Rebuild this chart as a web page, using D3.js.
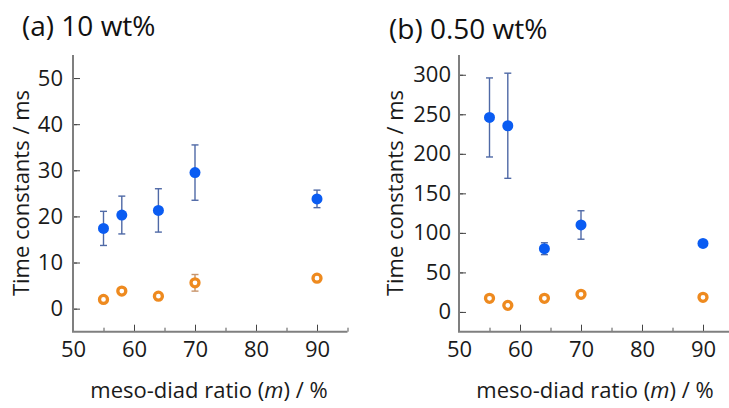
<!DOCTYPE html>
<html>
<head>
<meta charset="utf-8">
<script src="https://cdn.jsdelivr.net/npm/d3@7"></script>
<style>
  body { margin: 0; background: #fff; }
  svg { display: block; font-family: "Open Sans", sans-serif; }
  .tick text { fill: #1a1a1a; }
</style>
</head>
<body>
<svg id="chart" width="729" height="408"></svg>
<script>
// meso-diad ratio (m) / %
var mRatio = [55, 58, 64, 70, 90];

// (a) 10 wt%
var aSlow    = [17.4, 20.3, 21.3, 29.5, 23.8];
var aSlowErr = [3.7, 4.1, 4.7, 6.0, 1.9];
var aFast    = [2.0, 3.8, 2.7, 5.6, 6.6];
var aFastErr = [0.4, 0.5, 0.4, 1.8, 0.4];

// (b) 0.50 wt%
var bSlow    = [246, 235.5, 80, 110, 86.7];
var bSlowErr = [50, 66.5, 7.5, 18, 3];
var bFast    = [17.2, 8.3, 17.2, 22.3, 18.5];
var bFastErr = [2.5, 2, 2, 2.5, 2];

var xTicks  = [50, 60, 70, 80, 90];
var aYTicks = [0, 10, 20, 30, 40, 50];
var bYTicks = [0, 50, 100, 150, 200, 250, 300];

var svg = d3.select("#chart");

function panel(opt) {
  var x = d3.scaleLinear().domain([50, 95]).range([opt.left, opt.left + 274.5]);
  var y = d3.scaleLinear().domain(opt.yDomain).range([331.7, 55]);

  var g = svg.append("g");

  // minor ticks (inward)
  var xMinor = d3.range(55, 96, 10);
  var yMinor = d3.range(opt.yDomain[0] + opt.minorStep, opt.yDomain[1] + 0.1, opt.minorStep * 2);

  g.append("g")
      .attr("transform", "translate(0,331.7)")
      .call(d3.axisBottom(x).tickValues(xMinor).tickSize(-4).tickSizeOuter(0).tickFormat(""))
      .call(s => s.select(".domain").remove())
      .selectAll("line").attr("stroke", "#555");

  g.append("g")
      .attr("transform", "translate(" + opt.left + ",0)")
      .call(d3.axisLeft(y).tickValues(yMinor).tickSize(-4).tickSizeOuter(0).tickFormat(""))
      .call(s => s.select(".domain").remove())
      .selectAll("line").attr("stroke", "#555");

  // major ticks
  var xAx = g.append("g")
      .attr("transform", "translate(0,331.7)")
      .call(d3.axisBottom(x).tickValues(xTicks).tickSize(-7).tickSizeOuter(0).tickPadding(10));
  xAx.select(".domain").remove();
  xAx.selectAll("line").attr("stroke", "#444");
  xAx.selectAll("text").attr("font-size", 22).attr("font-family", "Open Sans");

  var yAx = g.append("g")
      .attr("transform", "translate(" + opt.left + ",0)")
      .call(d3.axisLeft(y).tickValues(opt.yTicks).tickSize(-7).tickSizeOuter(0).tickPadding(opt.yPad));
  yAx.select(".domain").remove();
  yAx.selectAll("line").attr("stroke", "#444");
  yAx.selectAll("text").attr("font-size", 22).attr("font-family", "Open Sans");

  // axis lines
  g.append("line")
      .attr("x1", opt.left).attr("x2", opt.left)
      .attr("y1", y(opt.yDomain[1])).attr("y2", 331.7)
      .attr("stroke", "#7f7f7f").attr("stroke-width", 2);
  g.append("line")
      .attr("x1", opt.left - 1).attr("x2", x(95))
      .attr("y1", 331.7).attr("y2", 331.7)
      .attr("stroke", "#7f7f7f").attr("stroke-width", 2);

  // error bars
  function errBars(vals, errs, color) {
    var d = mRatio.map((m, i) => ({ m: m, v: vals[i], e: errs[i] }));
    var eg = g.append("g").attr("stroke", color).attr("stroke-width", 1.4);
    eg.selectAll(".v").data(d).enter().append("line")
        .attr("x1", d => x(d.m)).attr("x2", d => x(d.m))
        .attr("y1", d => y(d.v - d.e)).attr("y2", d => y(d.v + d.e));
    eg.selectAll(".t").data(d).enter().append("line")
        .attr("x1", d => x(d.m) - 3.5).attr("x2", d => x(d.m) + 3.5)
        .attr("y1", d => y(d.v + d.e)).attr("y2", d => y(d.v + d.e));
    eg.selectAll(".b").data(d).enter().append("line")
        .attr("x1", d => x(d.m) - 3.5).attr("x2", d => x(d.m) + 3.5)
        .attr("y1", d => y(d.v - d.e)).attr("y2", d => y(d.v - d.e));
  }
  errBars(opt.fast, opt.fastErr, "#c8946a");
  errBars(opt.slow, opt.slowErr, "#4f69a6");

  // fast (open orange)
  g.selectAll(".fast").data(opt.fast).enter().append("circle")
      .attr("cx", (d, i) => x(mRatio[i]))
      .attr("cy", d => y(d))
      .attr("r", 4)
      .attr("fill", "#fff")
      .attr("stroke", "#ee8a1f")
      .attr("stroke-width", 3.3);

  // slow (filled blue)
  g.selectAll(".slow").data(opt.slow).enter().append("circle")
      .attr("cx", (d, i) => x(mRatio[i]))
      .attr("cy", d => y(d))
      .attr("r", 5.5)
      .attr("fill", "#0a5cf2");

  // titles and labels
  svg.append("text")
      .attr("x", opt.titleX).attr("y", opt.titleY)
      .attr("font-size", 28).attr("fill", "#111")
      .text(opt.title);

  svg.append("text")
      .attr("transform", "translate(" + opt.ylabX + ",193) rotate(-90)")
      .attr("text-anchor", "middle")
      .attr("font-size", 22).attr("fill", "#1a1a1a")
      .text("Time constants / ms");

  var xl = svg.append("text")
      .attr("x", opt.xlabX).attr("y", 398)
      .attr("text-anchor", "middle")
      .attr("font-size", 22).attr("fill", "#1a1a1a");
  xl.append("tspan").text("meso-diad ratio (");
  xl.append("tspan").attr("font-style", "italic").text("m");
  xl.append("tspan").text(") / %");
}

panel({
  left: 73, yDomain: [-5, 55], yTicks: aYTicks, minorStep: 5, yPad: 10,
  slow: aSlow, slowErr: aSlowErr, fast: aFast, fastErr: aFastErr,
  title: "(a) 10 wt%", titleX: 22, titleY: 36, ylabX: 29, xlabX: 209
});

panel({
  left: 459, yDomain: [-25, 325], yTicks: bYTicks, minorStep: 25, yPad: 8,
  slow: bSlow, slowErr: bSlowErr, fast: bFast, fastErr: bFastErr,
  title: "(b) 0.50 wt%", titleX: 389, titleY: 39, ylabX: 403, xlabX: 595
});
</script>
</body>
</html>
